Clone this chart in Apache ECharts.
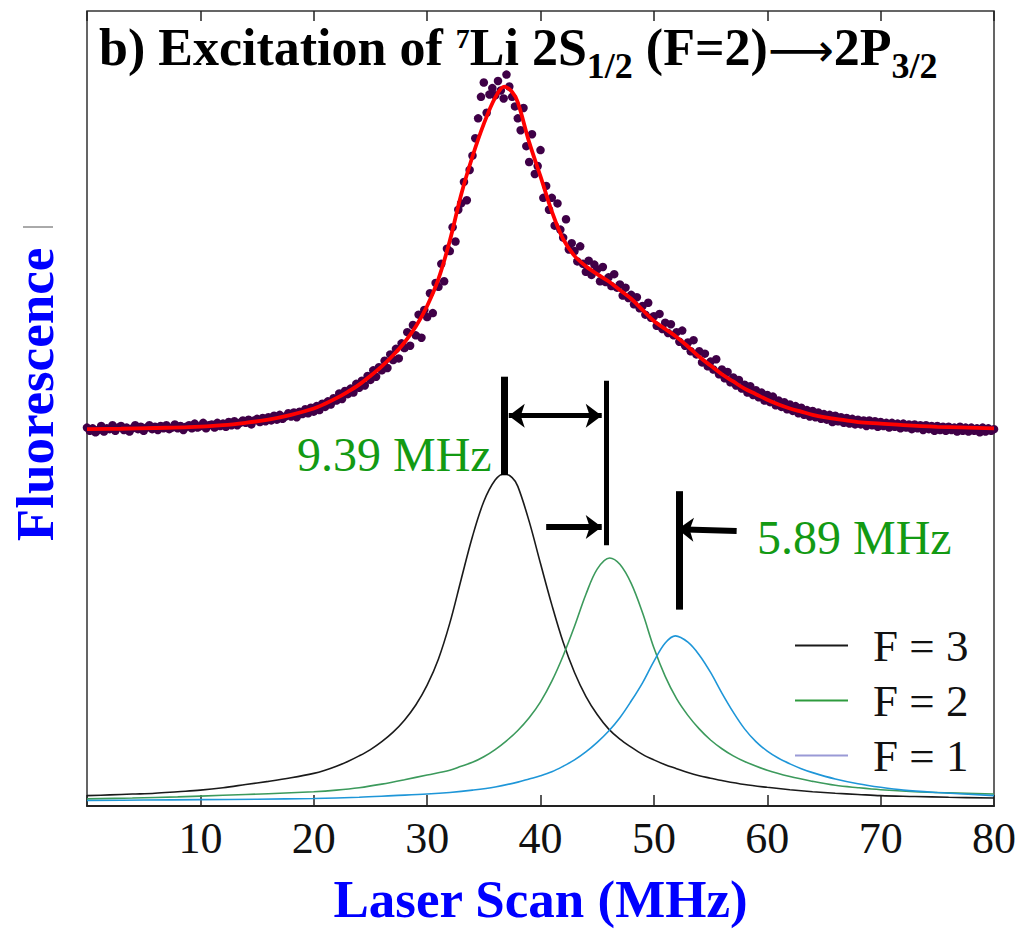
<!DOCTYPE html>
<html><head><meta charset="utf-8">
<script src="https://cdn.jsdelivr.net/npm/echarts@6/dist/echarts.min.js"></script>
<style>html,body{margin:0;padding:0;background:#fff}#c{width:1019px;height:930px}</style>
</head><body><div id="c"></div>
<script>
// ---- data ----
// measured fluorescence signal, sampled every 0.25 MHz from 0 to 80 MHz
const scanStart = 0, scanStep = 0.25;
const scanSignal = [
47.6,47.2,47.5,47.0, 47.3,47.8,47.1,47.5, 47.4,47.9,47.2,47.6, 47.8,47.3,47.6,47.1, 47.5,47.9,47.4,47.7,
47.2,47.6,47.9,47.4, 47.7,47.3,47.8,47.5, 47.9,47.4,47.6,48.0, 47.5,47.8,47.3,47.7, 47.9,47.5,48.1,47.6,
47.8,48.2,47.5,47.9, 48.0,47.6,48.2,47.8, 48.1,47.7,48.3,47.9, 48.4,47.9,48.2,48.5, 48.2,48.6,48.0,48.5,
48.7,48.3,48.8,48.4, 48.9,48.5,49.1,48.6, 49.2,48.7,49.0,49.4, 49.0,49.5,48.9,49.6, 49.3,49.9,49.4,50.1,
49.6,50.3,49.8,50.6, 50.2,50.9,50.5,51.3, 51.0,51.9,51.2,52.2, 51.8,52.5,52.0,53.1, 52.6,53.5,52.9,54.1,
53.6,54.8,54.0,55.2, 54.8,56.0,55.1,56.8, 56.1,57.5,56.3,58.2, 57.6,59.6,57.9,60.5, 59.2,61.8,58.9,62.4,
61.5,64.5,62.0,65.8, 65.3,68.2,66.0,70.1, 69.8,72.8,71.0,75.0, 75.8,78.5,76.2,80.0, 81.8,84.0,86.5,89.2,
91.0,87.2,89.5,90.3, 89.4,91.2,90.0,89.0, 92.0,90.5,89.2,88.0, 86.5,85.0,87.8,83.0, 81.0,84.5,79.5,80.5,
82.5,76.5,78.0,75.0, 76.5,73.0,75.8,72.5, 71.5,73.8,70.0,70.8, 69.8,68.5,70.4,68.2, 67.2,68.6,66.8,68.1,
67.5,66.0,67.8,65.9, 66.5,65.4,66.9,65.2, 65.6,64.2,65.2,63.9, 64.3,63.1,64.0,62.6, 62.9,61.8,63.3,61.4,
61.6,60.4,61.9,60.0, 60.8,59.5,60.6,59.2, 59.6,58.4,59.8,57.9, 58.3,57.2,58.6,56.8, 57.2,55.8,56.9,55.3,
55.9,54.9,56.2,54.3, 54.9,53.8,54.6,53.3, 53.9,52.9,53.6,52.5, 53.0,52.0,52.8,51.7, 52.3,51.4,52.0,51.0,
51.7,50.8,51.5,50.4, 51.0,50.2,50.8,49.9, 50.5,49.7,50.3,49.4, 50.1,49.2,49.8,49.0, 49.7,48.9,49.5,48.7,
49.3,48.6,49.2,48.3, 49.1,48.4,48.9,48.2, 48.8,48.1,48.7,48.0, 48.6,48.0,48.5,47.8, 48.5,47.9,48.4,47.7,
48.3,47.8,48.2,47.6, 48.2,47.7,48.1,47.5, 48.1,47.6,48.0,47.4, 48.0,47.5,47.9,47.3, 47.9,47.4,47.8,47.2,
47.8,47.3,47.7,47.2, 47.7,47.3,47.6,47.1, 47.7,47.2,47.6,47.1, 47.6,47.2,47.5,47.0, 47.6,47.1,47.5,47.2,
47.4
];
// fitted curve
const fitX = [0,3,6,9,12,14,16,18,20,21,22,23,24,25,26,27,28,29,30,31,32,33,34,35,36,36.8,37.5,
  38,39,40,41,42,43,44,45,46,47,48,49,50,51,52,53,54,55,56,57,58,59,60,61,62,63,64,65,66,68,70,72,75,80];
const fitY = [47.4,47.45,47.55,47.65,47.9,48.2,48.6,49.2,50.0,50.6,51.3,52.1,53.0,54.1,55.3,56.7,58.3,60.3,62.9,66.3,71.1,76.9,81.7,85.8,89.1,90.5,89.8,
  88.5,83.5,79.2,74.8,71.3,69.2,67.9,66.9,66.0,64.9,63.8,62.4,61.0,60.0,59.0,57.8,56.5,55.4,54.3,53.4,52.5,51.8,51.1,50.5,50.0,49.6,49.2,48.9,48.7,48.3,48.1,47.9,47.7,47.5];
// hyperfine components [MHz, signal]
const compF3 = [[0,1.3],[2,1.4],[4,1.5],[6,1.6],[8,1.8],[10,2.0],[12,2.3],[14,2.7],[16,3.1],[18,3.55],[20,4.1],[21,4.5],[22,5.0],[23,5.6],[24,6.3],[25,7.1],[26,8.1],[27,9.3],[28,10.8],[29,12.7],[30,15.2],[31,18.5],[32,23.0],[33,28.5],[34,33.9],[35,38.3],[36,41.0],[36.8,41.8],[37.5,41.3],[38,40.2],[39,35.8],[40,30.5],[41,25.3],[42,20.6],[43,16.8],[44,13.8],[45,11.5],[46,9.7],[47,8.4],[48,7.4],[49,6.5],[50,5.8],[51,5.2],[52,4.7],[53,4.2],[54,3.8],[55,3.5],[56,3.2],[58,2.7],[60,2.35],[62,2.05],[64,1.8],[66,1.6],[68,1.45],[70,1.3],[73,1.2],[76,1.1],[80,1.0]];
const compF2 = [[0,0.9],[4,1.0],[8,1.15],[12,1.35],[16,1.55],[20,1.8],[22,2.0],[24,2.3],[26,2.75],[28,3.3],[30,3.9],[32,4.5],[33,5.0],[34,5.5],[35,6.2],[36,7.1],[37,8.2],[38,9.5],[39,11.1],[40,13.1],[41,15.7],[42,18.9],[43,22.6],[44,26.6],[45,29.8],[46.1,31.2],[47,30.4],[48,28.0],[49,24.3],[50,19.9],[51,16.3],[52,13.5],[53,11.4],[54,9.7],[55,8.3],[56,7.2],[57,6.3],[58,5.6],[60,4.5],[62,3.7],[64,3.1],[66,2.6],[68,2.3],[70,2.05],[73,1.8],[76,1.65],[80,1.5]];
const compF1 = [[0,0.7],[5,0.75],[10,0.8],[15,0.85],[20,0.95],[24,1.1],[27,1.3],[30,1.5],[32,1.7],[34,2.0],[36,2.4],[38,3.0],[39,3.4],[40,3.8],[41,4.3],[42,5.0],[43,5.8],[44,6.8],[45,8.0],[46,9.4],[47,11.1],[48,13.2],[49,15.5],[50,18.2],[51,20.5],[51.9,21.4],[53,20.6],[54,19.0],[55,16.8],[56,14.2],[57,11.8],[58,9.7],[59,8.1],[60,6.9],[61,6.0],[62,5.3],[63,4.7],[64,4.2],[66,3.4],[68,2.8],[70,2.35],[72,2.0],[75,1.7],[80,1.3]];
const seriesNames = ['F = 3','F = 2','F = 1'];
const splitLabels = ['9.39 MHz','5.89 MHz'];
// annotation markers in data units: vertical bars [x, yFrom, yTo], arrows [x1, y1, x2, y2]
const peakBars = [[36.8,41.6,54.0],[45.8,32.8,53.5],[52.25,24.7,39.6]];
const doubleArrow = [37.2,49.1,45.4,49.1];
const rightArrow = [40.5,35.1,45.4,35.1];
const leftArrow = [57.3,34.6,52.1,34.8];

// ---- chart ----
const SERIF = '"Liberation Serif","Times New Roman",serif';
const chart = echarts.init(document.getElementById('c'), null, {renderer:'svg'});
const scanPoints = scanSignal.map((v,i)=>[scanStart + i*scanStep, v]);
const fitPoints = fitX.map((x,i)=>[x, fitY[i]]);

const bw = [7,5,7];
const markData = peakBars.map((b,i)=>[
  {coord:[b[0],b[1]], symbol:'none', lineStyle:{width:bw[i],color:'#000',type:'solid'}},
  {coord:[b[0],b[2]], symbol:'none', lineStyle:{width:bw[i],color:'#000',type:'solid'}}
]);
markData.push([
  {coord:[doubleArrow[0],doubleArrow[1]], symbol:'arrow', lineStyle:{width:5,color:'#000',type:'solid'}},
  {coord:[doubleArrow[2],doubleArrow[3]], symbol:'arrow', lineStyle:{width:5,color:'#000',type:'solid'}}
]);
markData.push([
  {coord:[rightArrow[0],rightArrow[1]], symbol:'none', lineStyle:{width:6,color:'#000',type:'solid'}},
  {coord:[rightArrow[2],rightArrow[3]], symbol:'arrow', lineStyle:{width:6,color:'#000',type:'solid'}}
]);
markData.push([
  {coord:[leftArrow[0],leftArrow[1]], symbol:'none', lineStyle:{width:6,color:'#000',type:'solid'}},
  {coord:[leftArrow[2],leftArrow[3]], symbol:'arrow', lineStyle:{width:6,color:'#000',type:'solid'}}
]);

const option = {
  animation:false,
  backgroundColor:'#fff',
  title:{
    text:'{m|b) Excitation of }{sup|7}{m|Li 2S}{sub|1/2}{m| (F=2)}{arr|\u27F6}{m|2P}{sub|3/2}',
    left:99, top:15, padding:0,
    textStyle:{rich:{
      m:{fontFamily:SERIF,fontWeight:'bold',fontSize:52,color:'#000',lineHeight:64},
      arr:{fontFamily:'"DejaVu Sans"',fontWeight:'normal',fontSize:46,color:'#000',lineHeight:20,padding:[6,0,0,0]},
      sup:{fontFamily:SERIF,fontWeight:'bold',fontSize:28,color:'#000',lineHeight:20,padding:[0,0,17,0]},
      sub:{fontFamily:SERIF,fontWeight:'bold',fontSize:36,color:'#000',lineHeight:20,padding:[37,0,0,0]}
    }}
  },
  legend:{
    orient:'vertical', left:790, top:618, icon:'rect', itemWidth:53, itemHeight:2, itemGap:10,
    selectedMode:false,
    data:[
      {name:seriesNames[0], itemStyle:{color:'#1a1a1a',borderWidth:0}},
      {name:seriesNames[1], itemStyle:{color:'#2e9b3e',borderWidth:0}},
      {name:seriesNames[2], itemStyle:{color:'#9a9ad6',borderWidth:0}}
    ],
    formatter:n=>'{t|'+n+'}',
    textStyle:{rich:{t:{fontFamily:SERIF,fontSize:45,color:'#111',lineHeight:46,padding:[0,0,0,20]}}}
  },
  grid:{left:79,right:24,top:11,bottom:121,show:true,borderColor:'#333',borderWidth:1.5,backgroundColor:'transparent',containLabel:false},
  xAxis:[
    {type:'value',min:0,max:80,interval:10,position:'bottom',
     axisLine:{show:true,lineStyle:{color:'#222',width:2}},
     axisTick:{show:true,inside:true,length:11,lineStyle:{color:'#222',width:1.5}},
     axisLabel:{fontFamily:SERIF,fontSize:44,color:'#111',margin:10,formatter:v=>v===0?'':String(v)},
     splitLine:{show:false},
     name:'Laser Scan (MHz)',nameLocation:'middle',nameGap:66,
     nameTextStyle:{fontFamily:SERIF,fontWeight:'bold',fontSize:53,color:'#0000ff'}},
    {type:'value',min:0,max:80,interval:10,position:'top',
     axisLine:{show:false},
     axisTick:{show:true,inside:true,length:10,lineStyle:{color:'#222',width:1.5}},
     axisLabel:{show:false},splitLine:{show:false}}
  ],
  yAxis:{type:'value',min:0,max:100,
    axisLine:{show:false},axisTick:{show:false},axisLabel:{show:false},splitLine:{show:false},
    name:'Fluorescence',nameLocation:'middle',nameGap:26,
    nameTextStyle:{fontFamily:SERIF,fontWeight:'bold',fontSize:53,color:'#0000ff',padding:[0,0,0,28]}},
  graphic:[
    {type:'text',left:297,top:430,silent:true,style:{text:splitLabels[0],font:'48px "Liberation Serif"',fill:'#139a13'}},
    {type:'text',left:757,top:513,silent:true,style:{text:splitLabels[1],font:'48px "Liberation Serif"',fill:'#139a13'}},
    {type:'line',silent:true,shape:{x1:23,y1:227,x2:53,y2:227},style:{stroke:'#555',lineWidth:1}}
  ],
  series:[
    {type:'scatter',name:'data',data:scanPoints,symbol:'circle',symbolSize:8.5,silent:true,
     itemStyle:{color:'#3f0047',opacity:1},z:2},
    {type:'line',name:'fit',data:fitPoints,smooth:0.35,showSymbol:false,silent:true,
     lineStyle:{color:'#ff0000',width:3.8},z:3},
    {type:'line',name:seriesNames[0],data:compF3,smooth:0.35,showSymbol:false,silent:true,
     itemStyle:{color:'#1a1a1a'},lineStyle:{color:'#1a1a1a',width:1.6},z:4,
     markLine:{silent:true,animation:false,label:{show:false},symbol:['none','none'],symbolSize:[18,16],
       emphasis:{disabled:true},data:markData}},
    {type:'line',name:seriesNames[1],data:compF2,smooth:0.35,showSymbol:false,silent:true,
     itemStyle:{color:'#3c9a5c'},lineStyle:{color:'#3c9a5c',width:1.6},z:4},
    {type:'line',name:seriesNames[2],data:compF1,smooth:0.35,showSymbol:false,silent:true,
     itemStyle:{color:'#1e96d8'},lineStyle:{color:'#1e96d8',width:1.6},z:4}
  ]
};
chart.setOption(option);
</script></body></html>
